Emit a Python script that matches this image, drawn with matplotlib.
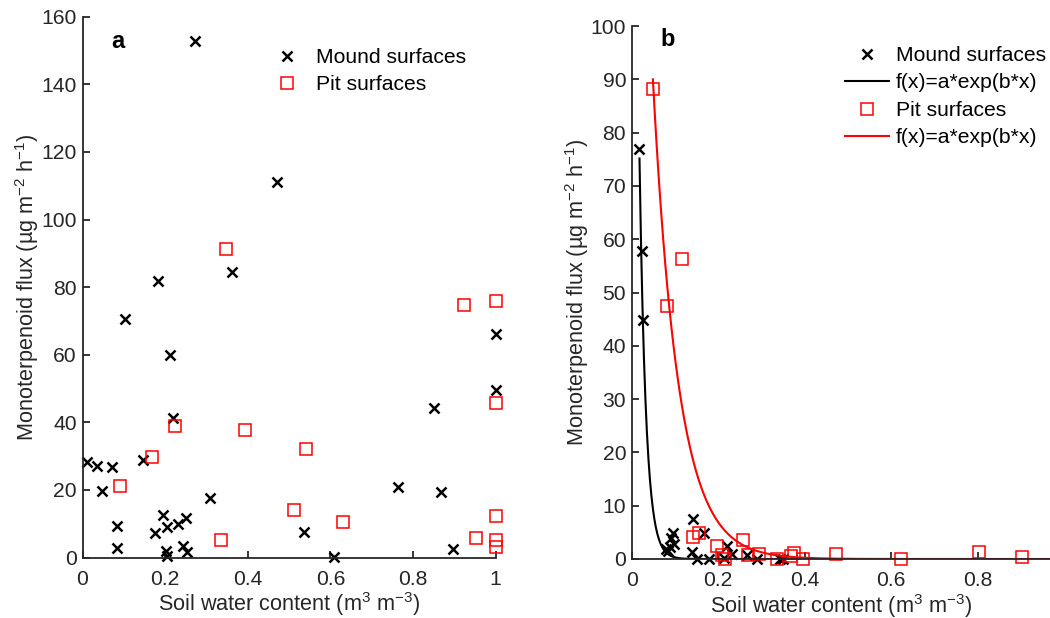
import numpy as np
import matplotlib
matplotlib.use("Agg")
import matplotlib.pyplot as plt

plt.rcParams['font.family'] = ['Liberation Sans', 'DejaVu Sans']
plt.rcParams['mathtext.fontset'] = 'custom'
plt.rcParams['mathtext.rm'] = 'Liberation Sans'
plt.rcParams['mathtext.it'] = 'Liberation Sans:italic'
plt.rcParams['mathtext.bf'] = 'Liberation Sans:bold'

# ---- Panel a: all measurements ----
mound_a_x = [0.010, 0.036, 0.047, 0.072, 0.084, 0.084, 0.103, 0.146, 0.176, 0.182,
             0.194, 0.204, 0.202, 0.204, 0.212, 0.220, 0.232, 0.251, 0.244, 0.253,
             0.273, 0.309, 0.362, 0.471, 0.535, 0.608, 0.764, 0.850, 0.868, 0.897,
             1.0, 1.0]
mound_a_y = [28.2, 27.2, 19.8, 26.7, 9.4, 2.7, 70.5, 28.8, 7.2, 81.9,
             12.6, 9.1, 2.0, 0.4, 59.8, 41.2, 9.8, 11.8, 3.4, 1.5,
             152.8, 17.5, 84.4, 111.2, 7.6, 0.1, 20.9, 44.1, 19.5, 2.5,
             66.1, 49.6]
pit_a_x = [0.091, 0.168, 0.223, 0.335, 0.347, 0.394, 0.511, 0.542, 0.630, 0.923,
           0.952, 1.0, 1.0, 1.0, 1.0, 1.0]
pit_a_y = [21.2, 29.7, 39.0, 5.2, 91.2, 37.7, 14.1, 32.0, 10.6, 74.7,
           5.7, 75.9, 45.6, 12.3, 5.2, 3.2]

# ---- Panel b: measurements with exponential fits ----
mound_b_x = [0.018, 0.023, 0.027, 0.079, 0.085, 0.089, 0.092, 0.096, 0.098, 0.139,
             0.142, 0.150, 0.167, 0.179, 0.214, 0.221, 0.233, 0.266, 0.289, 0.343,
             0.350]
mound_b_y = [77.0, 57.7, 44.8, 1.8, 1.5, 2.3, 3.9, 4.8, 2.9, 1.4,
             7.5, 0.0, 4.8, 0.0, 0.2, 2.4, 0.9, 0.7, 0.0, 0.0,
             0.0]
pit_b_x = [0.049, 0.082, 0.116, 0.141, 0.156, 0.198, 0.209, 0.216, 0.257, 0.270,
           0.295, 0.337, 0.368, 0.375, 0.395, 0.472, 0.622, 0.803, 0.902]
pit_b_y = [88.1, 47.5, 56.2, 4.1, 4.8, 2.5, 0.7, 0.0, 3.6, 0.7,
           0.9, 0.0, 0.6, 1.2, 0.0, 0.9, 0.0, 1.4, 0.4]

# f(x) = a*exp(b*x) coefficients
mound_fit = (251.0, -67.0)
pit_fit = (207.0, -17.0)
mound_fit_range = (0.018, 0.36)
pit_fit_range = (0.049, 1.0)

legend_a = ['Mound surfaces', 'Pit surfaces']
legend_b = ['Mound surfaces', 'f(x)=a*exp(b*x)', 'Pit surfaces', 'f(x)=a*exp(b*x)']
ylabel = 'Monoterpenoid flux (\u00b5g m$^{-2}$ h$^{-1}$)'
xlabel = 'Soil water content (m$^{3}$ m$^{-3}$)'

W, H = 1050, 618
fig = plt.figure(figsize=(W / 100, H / 100), dpi=100)

axis_col = '#262626'
fs = 15.2
fs_lab = 15.6


def px_axes(left, right, top, bottom):
    return fig.add_axes([left / W, 1 - bottom / H, (right - left) / W, (bottom - top) / H])


def style(ax):
    for s in ['top', 'right']:
        ax.spines[s].set_visible(False)
    for s in ['left', 'bottom']:
        ax.spines[s].set_color(axis_col)
        ax.spines[s].set_linewidth(1.3)
    ax.tick_params(direction='in', length=5, width=1.3, color=axis_col,
                   labelcolor=axis_col, labelsize=fs)
    ax.tick_params(axis='x', pad=9)
    ax.tick_params(axis='y', pad=4)


mk_x = dict(marker='x', linestyle='none', color='black', markersize=7.5,
            markeredgewidth=1.8, clip_on=False)
mk_s = dict(marker='s', linestyle='none', markerfacecolor='none',
            markeredgecolor='#ff0000', markersize=8.5, markeredgewidth=1.1, clip_on=False)

leg_kw = dict(bbox_transform=fig.transFigure, frameon=False, fontsize=fs,
              handlelength=2.1, handletextpad=0.3, labelspacing=0.40, borderpad=0,
              borderaxespad=0, loc='upper left')

# Panel a
ax1 = px_axes(82.5, 495.7, 16.7, 557.5)
style(ax1)
ax1.plot(mound_a_x, mound_a_y, label=legend_a[0], **mk_x)
ax1.plot(pit_a_x, pit_a_y, label=legend_a[1], **mk_s)
ax1.set_xlim(0, 1)
ax1.set_ylim(0, 160)
ax1.set_xticks([0, 0.2, 0.4, 0.6, 0.8, 1.0])
ax1.set_xticklabels(['0', '0.2', '0.4', '0.6', '0.8', '1'])
ax1.set_yticks(np.arange(0, 161, 20))
ax1.set_xlabel(xlabel, fontsize=fs_lab, color=axis_col, labelpad=1)
ax1.set_ylabel(ylabel, fontsize=fs_lab, color=axis_col, labelpad=0)
ax1.text(118 / W, 1 - 42 / H, 'a', transform=fig.transFigure, fontsize=17,
         fontweight='bold', ha='center', va='center')
ax1.legend(bbox_to_anchor=(265 / W, 1 - 48 / H), **leg_kw)

# Panel b
ax2 = px_axes(631.7, 1050, 26, 559)
style(ax2)
xm = np.linspace(*mound_fit_range, 300)
xp = np.linspace(*pit_fit_range, 400)
h1, = ax2.plot(mound_b_x, mound_b_y, **mk_x)
h2, = ax2.plot(xm, mound_fit[0] * np.exp(mound_fit[1] * xm), color='black', lw=1.5)
h3, = ax2.plot(pit_b_x, pit_b_y, **mk_s)
h4, = ax2.plot(xp, pit_fit[0] * np.exp(pit_fit[1] * xp), color='#ff0000', lw=1.5)
ax2.set_xlim(0, (1050 - 631.7) / 432.5)
ax2.set_ylim(0, 100)
ax2.set_xticks([0, 0.2, 0.4, 0.6, 0.8])
ax2.set_xticklabels(['0', '0.2', '0.4', '0.6', '0.8'])
ax2.set_yticks(np.arange(0, 101, 10))
ax2.set_xlabel(xlabel, fontsize=fs_lab, color=axis_col, labelpad=1)
ax2.set_ylabel(ylabel, fontsize=fs_lab, color=axis_col, labelpad=0)
ax2.text(668 / W, 1 - 40 / H, 'b', transform=fig.transFigure, fontsize=17,
         fontweight='bold', ha='center', va='center')
ax2.legend([h1, h2, h3, h4], legend_b, bbox_to_anchor=(845 / W, 1 - 46 / H), **leg_kw)

fig.savefig('out.png', dpi=100)
